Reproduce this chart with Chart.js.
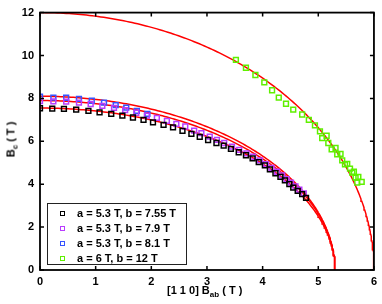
<!DOCTYPE html>
<html>
<head>
<meta charset="utf-8">
<script src="https://cdn.jsdelivr.net/npm/chart.js@4/dist/chart.umd.min.js"></script>
<style>
  body { margin:0; background:#fff; }
  #wrap { position:relative; width:382px; height:304px; font-family:"Liberation Sans", Arial, sans-serif; font-weight:bold; color:#000; }
  #myCan { position:absolute; left:0; top:0; }
  .ttl { position:absolute; font-size:11px; white-space:nowrap; line-height:11px; }
  .ttl sub { font-size:8px; vertical-align:-3px; line-height:0; }
  #ytitle { left:-12px; top:134px; transform:rotate(-90deg); transform-origin:center; width:46px; text-align:center; }
  #xtitle { left:167px; top:285px; }
  #legend { position:absolute; left:47px; top:203px; width:140px; height:62px; border:1px solid #222; background:#fff; box-sizing:border-box; font-size:11px; }
  .lrow { position:absolute; left:0; height:14px; line-height:14px; }
  .lmark { position:absolute; left:12px; top:5px; width:3px; height:3px; border:1.3px solid; }
  .ltxt { position:absolute; left:29px; top:0; white-space:nowrap; }
</style>
</head>
<body>
<div id="wrap">
  <canvas id="myCan" width="382" height="304"></canvas>
  <div class="ttl" id="ytitle">B<sub>c</sub> ( T )</div>
  <div class="ttl" id="xtitle">[1 1 0] B<sub>ab</sub> ( T )</div>
  <div id="legend"></div>
</div>
<script>
// fit parameters of the ellipses  Bc = b*sqrt(1-(Bab/a)^2)
var fitA = [5.3, 5.3, 5.3, 6];
var fitB = [7.55, 7.9, 8.1, 12];
var seriesLabels = ['a = 5.3 T, b = 7.55 T', 'a = 5.3 T, b = 7.9 T', 'a = 5.3 T, b = 8.1 T', 'a = 6 T, b = 12 T'];
var xTicks = [0, 1, 2, 3, 4, 5, 6];
var yTicks = [0, 2, 4, 6, 8, 10, 12];

var babBlack = [0,0.22,0.43,0.65,0.87,1.07,1.28,1.48,1.67,1.86,2.03,2.22,2.39,2.56,2.72,2.87,3.02,3.17,3.30,3.43,3.57,3.70,3.82,3.93,4.04,4.13,4.23,4.32,4.40,4.48,4.55,4.63,4.71,4.78];
var bcBlack  = [7.54,7.52,7.51,7.48,7.42,7.35,7.28,7.20,7.11,7.00,6.88,6.77,6.65,6.49,6.35,6.21,6.06,5.92,5.80,5.65,5.49,5.35,5.20,5.03,4.88,4.69,4.51,4.34,4.18,4.00,3.84,3.69,3.54,3.36];

var babPurple = [0,0.24,0.47,0.70,0.91,1.12,1.33,1.53,1.73,1.92,2.10,2.28,2.45,2.61,2.77,2.90,3.05,3.18,3.31,3.45,3.58,3.71,3.83,3.95,4.06,4.16,4.26,4.35,4.43,4.51,4.59,4.66,4.74];
var bcPurple  = [7.88,7.86,7.85,7.80,7.74,7.65,7.56,7.45,7.33,7.20,7.09,6.95,6.81,6.69,6.50,6.38,6.22,6.07,5.92,5.75,5.60,5.44,5.28,5.11,4.94,4.76,4.58,4.41,4.24,4.07,3.90,3.74,3.57];

var babBlue = [0,0.24,0.47,0.70,0.93,1.15,1.36,1.55,1.74,1.93];
var bcBlue  = [8.08,8.04,8.03,7.98,7.89,7.80,7.69,7.57,7.42,7.28];

var babGreen = [3.52,3.70,3.87,4.03,4.17,4.29,4.42,4.55,4.71,4.83,4.94,5.03,5.07,5.15,5.18,5.24,5.31,5.34,5.40,5.43,5.48,5.52,5.57,5.61,5.64,5.67,5.72,5.70,5.78];
var bcGreen  = [9.80,9.43,9.09,8.75,8.38,8.04,7.75,7.48,7.25,7.00,6.74,6.46,6.15,6.26,5.92,5.62,5.69,5.39,5.41,5.11,4.92,4.95,4.73,4.54,4.58,4.31,4.34,4.08,4.11];

var colors = ['#000000', '#b93cff', '#3653ff', '#5ff000'];
var fnt = {family:'Liberation Sans', size:11, weight:'bold'};

function pairs(xs, ys){
  return xs.map(function(x, i){ return {x:x, y:ys[i]}; });
}

function fitCurve(a, b){
  var pts = [];
  for (var i = 0; i <= 180; i++){
    var t = i * Math.PI / 360;
    pts.push({x: a*Math.cos(t), y: b*Math.sin(t)});
  }
  return pts;
}

var measured = [pairs(babBlack,bcBlack), pairs(babPurple,bcPurple), pairs(babBlue,bcBlue), pairs(babGreen,bcGreen)];
var datasets = [];
measured.forEach(function(d, i){
  datasets.push({label:seriesLabels[i], data:d, showLine:false, pointStyle:'rect', pointRadius:3.4,
    pointBorderWidth:1.5, borderColor:colors[i], backgroundColor:'rgba(0,0,0,0)', order:i+1});
});
fitA.forEach(function(a, i){
  datasets.push({label:'fit'+i, data:fitCurve(a, fitB[i]), showLine:true, pointRadius:0,
    borderColor:'#ff0000', borderWidth:1.5, fill:false, order:10, tension:0});
});

var frame = {
  id:'frame',
  afterDraw: function(chart){
    var c = chart.ctx, ca = chart.chartArea, sx = chart.scales.x, sy = chart.scales.y;
    c.save();
    c.strokeStyle = '#000';
    c.lineWidth = 1.5;
    c.beginPath();
    xTicks.forEach(function(v){
      var p = sx.getPixelForValue(v);
      c.moveTo(p, ca.bottom); c.lineTo(p, ca.bottom-4);
      c.moveTo(p, ca.top); c.lineTo(p, ca.top+4);
    });
    yTicks.forEach(function(v){
      var p = sy.getPixelForValue(v);
      c.moveTo(ca.left, p); c.lineTo(ca.left+4, p);
      c.moveTo(ca.right, p); c.lineTo(ca.right-4, p);
    });
    c.stroke();
    c.lineWidth = 1.8;
    c.strokeRect(ca.left, ca.top, ca.right-ca.left, ca.bottom-ca.top);
    c.restore();
  }
};

var ctxx = document.getElementById('myCan').getContext('2d');
var xChart = new Chart(ctxx, {
  type:'scatter',
  data:{datasets:datasets},
  options:{
    responsive:false,
    animation:false,
    devicePixelRatio:1,
    layout:{padding:{top:10, right:7, left:0, bottom:0}},
    plugins:{legend:{display:false}, tooltip:{enabled:false}},
    scales:{
      x:{type:'linear', min:0, max:6,
        afterFit:function(s){ s.height = 34; },
        afterBuildTicks:function(s){ s.ticks = xTicks.map(function(v){ return {value:v}; }); },
        grid:{display:false, drawTicks:false}, border:{display:false},
        ticks:{color:'#000', font:fnt, padding:5, maxRotation:0}},
      y:{type:'linear', min:0, max:12,
        afterFit:function(s){ s.width = 40; },
        afterBuildTicks:function(s){ s.ticks = yTicks.map(function(v){ return {value:v}; }); },
        grid:{display:false, drawTicks:false}, border:{display:false},
        ticks:{color:'#000', font:fnt, padding:6}}
    }
  },
  plugins:[frame]
});

// legend box
var lg = document.getElementById('legend');
seriesLabels.forEach(function(t, i){
  var row = document.createElement('div');
  row.className = 'lrow';
  row.style.top = (2 + i*15) + 'px';
  row.innerHTML = '<span class="lmark" style="border-color:'+colors[i]+'"></span><span class="ltxt">'+t+'</span>';
  lg.appendChild(row);
});
</script>
</body>
</html>
